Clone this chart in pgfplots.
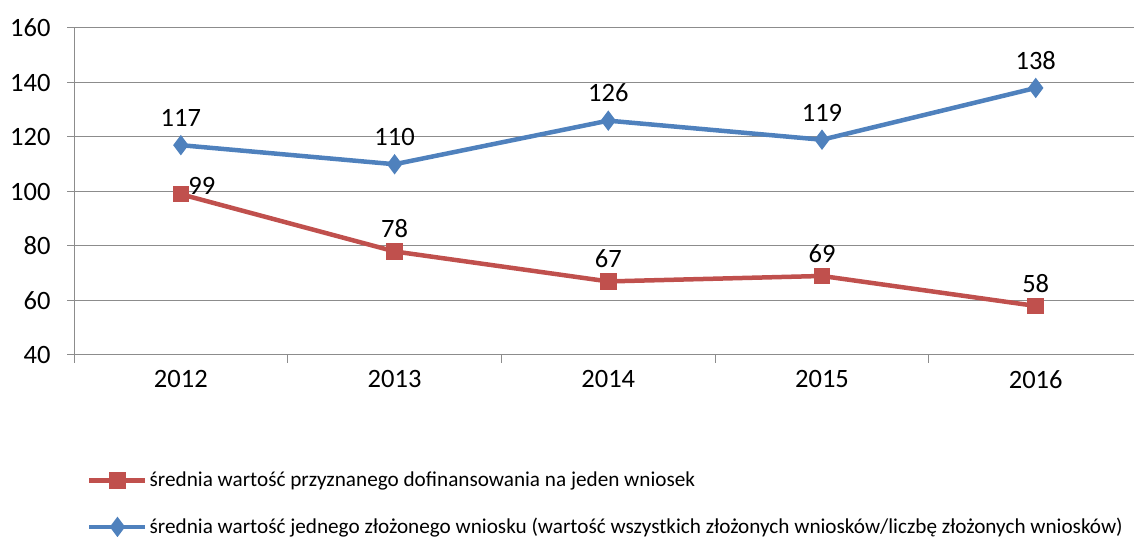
\documentclass[border=0pt]{standalone}
\usepackage{pgfplots}
\pgfplotsset{compat=1.18}
\usepackage{fontspec}
\setmainfont{Carlito}
\definecolor{cred}{HTML}{C0504D}
\definecolor{cblue}{HTML}{4F81BD}
\definecolor{gridc}{HTML}{8C8C8C}
\begin{document}
\begin{tikzpicture}
\begin{axis}[
 at={(74pt,182pt)}, anchor=south west,
 scale only axis, width=1060pt, height=327pt,
 xmin=-0.5, xmax=4.46, ymin=40, ymax=160,
 ytick={40,60,...,160},
 xtick={0,...,4}, xticklabels={2012,2013,2014,2015,2016},
 minor xtick={-0.5,0.5,1.5,2.5,3.5},
 major x tick style={draw=none},
 tick align=outside, major tick length=7pt, minor tick length=8pt,
 tick style={gridc, line width=1pt},
 ymajorgrids, major grid style={gridc, line width=1pt},
 axis x line*=bottom, axis y line*=left,
 axis line style={gridc, line width=1pt, -},
 tick label style={font=\fontsize{26.5}{31}\selectfont, text=black},
 yticklabel style={xshift=-13pt},
 xticklabel style={yshift=-5pt},
 /pgf/number format/assume math mode=true,
 clip=false,
 legend cell align=left,
 legend style={draw=none, fill=none, at={(rel axis cs:0,0)}, anchor=north west,
   xshift=13pt, yshift=-115pt, font=\fontsize{21.2}{26}\selectfont,
   row sep=26pt, inner sep=0pt},
 legend image code/.code={\draw[mark repeat=2,mark phase=2,#1] plot coordinates {(0pt,0pt) (28pt,0pt) (56pt,0pt)};},
]
\addplot[cred, line width=4.5pt, mark=square*, mark size=6pt, mark options={solid}]
  coordinates {(0,99)(1,78)(2,67)(3,69)(4,58)};
\addlegendentry{średnia wartość przyznanego dofinansowania na jeden wniosek}
\addplot[cblue, line width=4.5pt, mark=diamond*, mark size=6.5pt, mark options={solid},
  nodes near coords, every node near coord/.append style={font=\fontsize{26.5}{31}\selectfont, text=black, yshift=13pt}]
  coordinates {(0,117)(1,110)(2,126)(3,119)(4,138)};
\addlegendentry{średnia wartość jednego złożonego wniosku (wartość wszystkich złożonych wniosków/liczbę złożonych wniosków)}
\addplot[draw=none, mark=none, forget plot,
  nodes near coords, every node near coord/.append style={font=\fontsize{26.5}{31}\selectfont, text=black, yshift=10pt}]
  coordinates {(1,78)(2,67)(3,69)(4,58)};
\addplot[draw=none, mark=none, forget plot,
  nodes near coords, every node near coord/.append style={font=\fontsize{26.5}{31}\selectfont, text=black, anchor=south west, xshift=4pt, yshift=-4pt}]
  coordinates {(0,99)};
\end{axis}
\pgfresetboundingbox
\path[use as bounding box] (0,0) rectangle (1134pt,537pt);
\end{tikzpicture}
\end{document}
